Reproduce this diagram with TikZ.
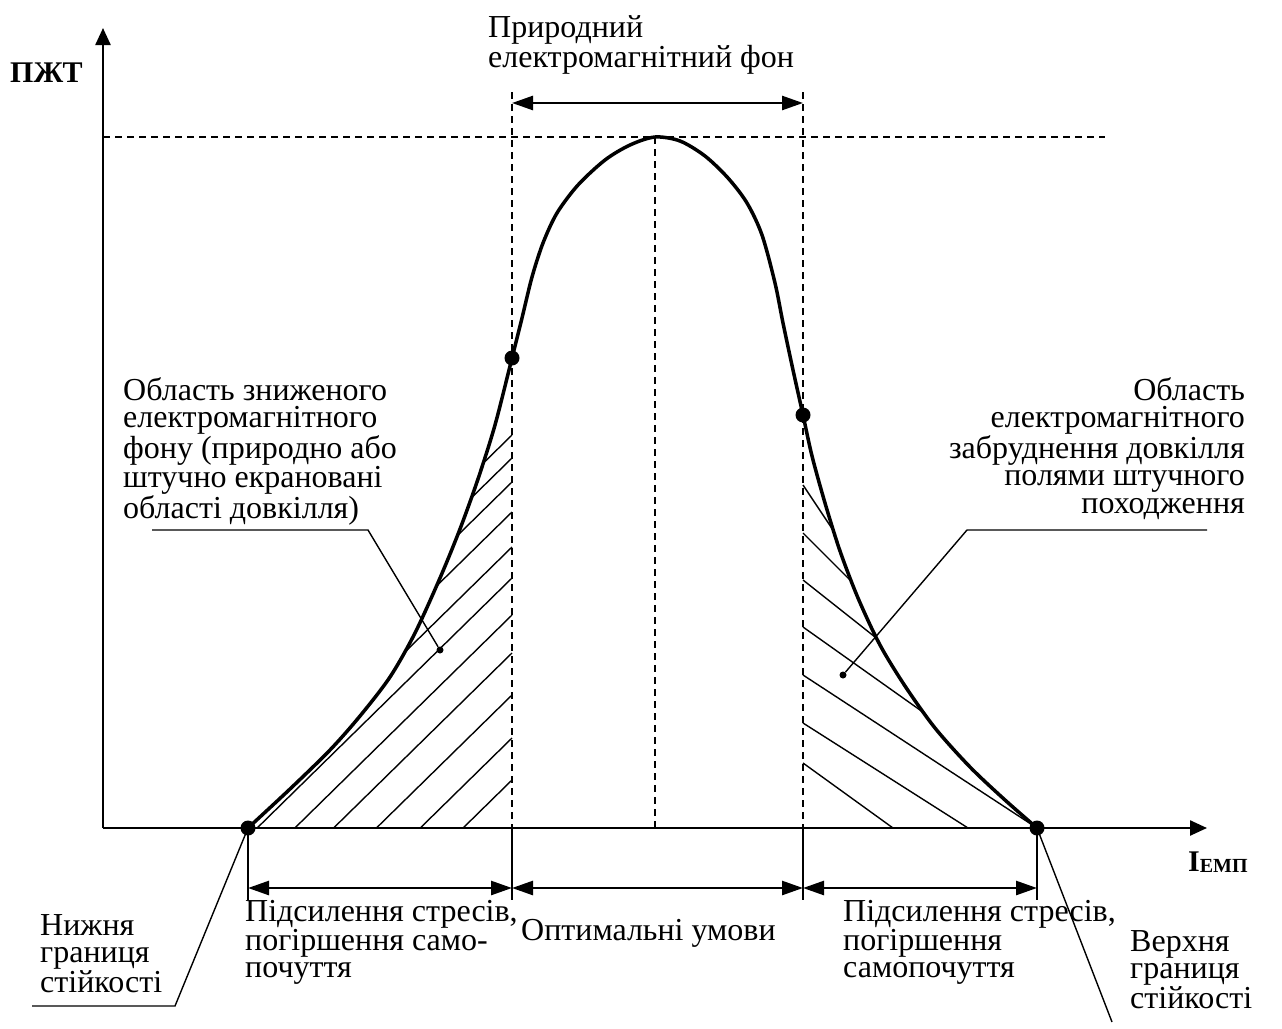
\documentclass[tikz,border=0pt]{standalone}
\usepackage{fontspec}
\setmainfont{Liberation Serif}
\usetikzlibrary{arrows.meta, calc}

\tikzset{
 axis/.style={line width=2.4pt, -{Triangle[length=17pt,width=15pt]}},
 span/.style={line width=2.6pt, {Triangle[length=21pt,width=14pt]}-{Triangle[length=21pt,width=14pt]}},
 guide/.style={line width=1.4pt, dash pattern=on 7pt off 5pt},
 tick/.style={line width=1.6pt},
 hatch/.style={line width=1.4pt},
 leader/.style={line width=1.4pt},
 bigdot/.style={circle, fill, inner sep=0pt, minimum size=15pt},
 smalldot/.style={circle, fill, inner sep=0pt, minimum size=7pt},
 lbl/.style={inner sep=0pt, font=\fontsize{32}{27.5}\selectfont},
}

\begin{document}
\begin{tikzpicture}[x=1pt, y=-1pt]
\useasboundingbox (0,0) rectangle (1282,1028);

% axes
\coordinate (O) at (103,828);
\coordinate (ytip) at (103,28);
\coordinate (xtip) at (1207,828);
\draw[axis] (O) -- (ytip);
\draw[axis] (O) -- (xtip);

% guide lines
\draw[guide] (103,137) -- (1105,137);
\draw[guide] (512,92) -- (512,828);
\draw[guide] (803,92) -- (803,828);
\draw[guide] (655,137) -- (655,828);

% hatching under the curve
\begin{scope}
\clip plot[smooth, tension=0.5] coordinates {(248,828) (290,789) (330,750) (360,716) (390,677) (415,633) (440,578) (460,529) (478,479) (495,425) (512,358) (522,318) (532,277) (543,243) (557,213) (578,185) (605,160) (630,145) (655,137) (680,141) (705,156) (728,178) (747,203) (762,235) (775,283) (783,323) (793,370) (803,415) (812,456) (825,503) (840,551) (858,598) (880,645) (905,686) (935,728) (970,767) (1005,800) (1037,828)} -- cycle;
\foreach \y in {435,458,482,512,547,578,615,653,695,738,780}
  \draw[hatch] (512,\y) -- ++(-420,412);
\foreach \ys/\xe/\ye in {485/833/530, 533/848/578, 580/875/637, 627/920/710, 675/1037/828, 723/968/828, 763/893/828}
  \draw[hatch] (803,\ys) -- ($(803,\ys)!1.5!(\xe,\ye)$);
\end{scope}

% curve
\draw[line width=3.5pt, line join=round] plot[smooth, tension=0.5] coordinates {(248,828) (290,789) (330,750) (360,716) (390,677) (415,633) (440,578) (460,529) (478,479) (495,425) (512,358) (522,318) (532,277) (543,243) (557,213) (578,185) (605,160) (630,145) (655,137) (680,141) (705,156) (728,178) (747,203) (762,235) (775,283) (783,323) (793,370) (803,415) (812,456) (825,503) (840,551) (858,598) (880,645) (905,686) (935,728) (970,767) (1005,800) (1037,828)};

\node[bigdot] (lower) at (248,828) {};
\node[bigdot] (upper) at (1037,828) {};
\node[bigdot] (bgl) at (512,358) {};
\node[bigdot] (bgr) at (803,415) {};

% ticks and spans
\foreach \x in {248,512,803,1037}
  \draw[tick] (\x,828) -- (\x,900);
\coordinate (a1) at (248,888);
\coordinate (a2) at (512,888);
\coordinate (a3) at (803,888);
\coordinate (a4) at (1037,888);
\coordinate (b1) at (512,103);
\coordinate (b2) at (803,103);
\draw[span] (a1) -- (a2);
\draw[span] (a2) -- (a3);
\draw[span] (a3) -- (a4);
\draw[span] (b1) -- (b2);

% leaders
\node[smalldot] (lowzone) at (440,650) {};
\node[smalldot] (highzone) at (843,675) {};
\coordinate (lk) at (368,530);
\coordinate (le) at (152,530);
\coordinate (rk) at (967,530);
\coordinate (re) at (1207,530);
\coordinate (lowk) at (175,1006);
\coordinate (lowe) at (32,1006);
\coordinate (upe) at (1112,1022);
\draw[leader] (lowzone) -- (lk) -- (le);
\draw[leader] (highzone) -- (rk) -- (re);
\draw[leader] (lower.center) -- (lowk) -- (lowe);
\draw[leader] (upper.center) -- (upe);

% labels
\node[lbl, anchor=north west, font=\fontsize{30}{30}\selectfont\bfseries] (ylab) at (10,63) {ПЖТ};
\node[lbl, anchor=north west, font=\bfseries] (xlab) at (1188,852)
  {\fontsize{30}{30}\selectfont I\raisebox{-1pt}{\fontsize{20}{20}\selectfont ЕМП}};
\node[lbl, anchor=north west, align=left] (bgtext) at (488,15) {Природний\\електромагнітний фон};
\node[lbl, anchor=north west, align=left] (lowtext) at (123,377)
  {Область зниженого\\електромагнітного\\фону (природно або\\штучно екрановані\\області довкілля)};
\node[lbl, anchor=north east, align=right] (hightext) at (1245,377)
  {Область\\електромагнітного\\забруднення довкілля\\полями штучного\\походження};
\node[lbl, anchor=north west, align=left] (stressl) at (245,900) {Підсилення стресів,\\погіршення само-\\почуття};
\node[lbl, anchor=north west] (optimum) at (521,919) {Оптимальні умови};
\node[lbl, anchor=north west, align=left] (stressr) at (843,900) {Підсилення стресів,\\погіршення\\самопочуття};
\node[lbl, anchor=north west, align=left] (lowlim) at (40,914) {Нижня\\границя\\стійкості};
\node[lbl, anchor=north west, align=left] (uplim) at (1130,930) {Верхня\\границя\\стійкості};
\end{tikzpicture}
\end{document}
